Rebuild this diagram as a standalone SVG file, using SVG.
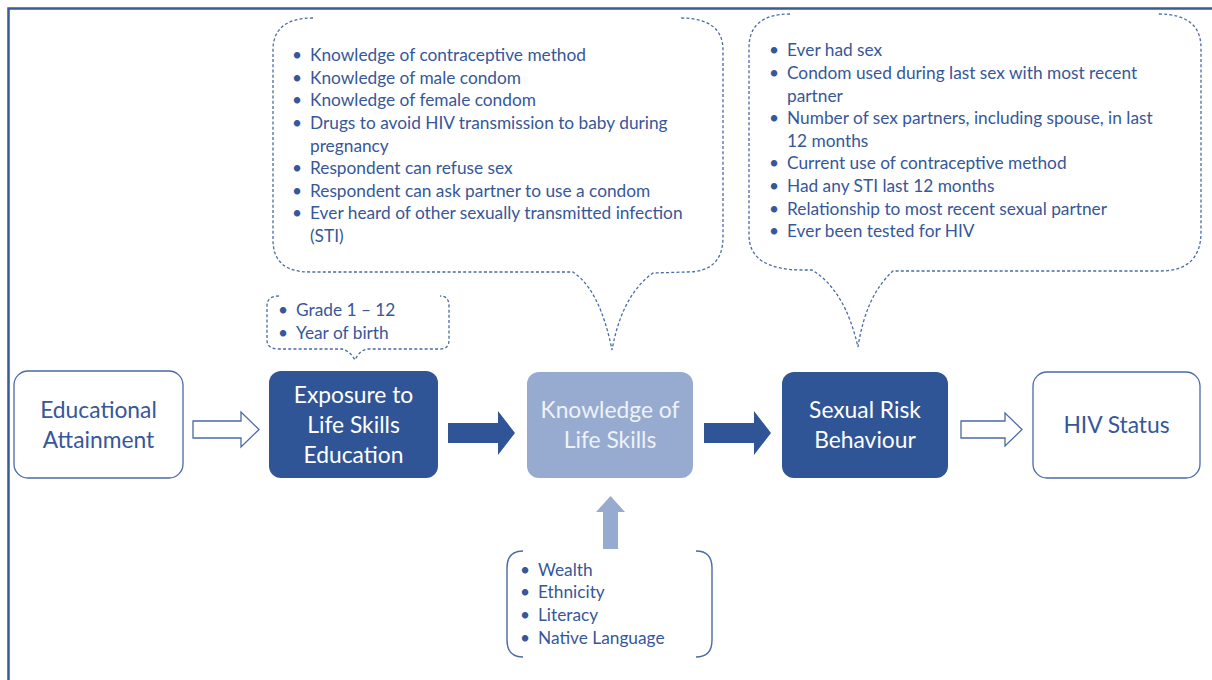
<svg xmlns="http://www.w3.org/2000/svg" width="1212" height="680" viewBox="0 0 1212 680">
<style>
.txt{font-family:Lato,"Liberation Sans",sans-serif;font-size:17.3px;fill:#36579a}
.node{font-family:Lato,"Liberation Sans",sans-serif;font-size:22.8px;text-anchor:middle}
.dash{fill:none;stroke:#4a6aa8;stroke-width:1.3;stroke-dasharray:3 2.2}
.outline{fill:#fff;stroke:#4a6aa8;stroke-width:1.3}
.dark{fill:#2f5597}
.hollow{fill:#fff;stroke:#4a6aa8;stroke-width:1.3}
</style>
<rect width="1212" height="680" fill="#fff"/>
<path d="M8.5,680 L8.5,8.5 L1212,8.5" fill="none" stroke="#3a5a9a" stroke-width="2.5"/>

<g id="callout-knowledge">
<path class="dash" d="M313,18 Q273,18 273,50 L273,240 Q273,272 310,272 L573,272 Q600,290 612,350 Q622,295 653,273 L687,272 Q723,272 723,237 L723,50 Q723,18 680,18"/>
<g class="txt">
<text x="292" y="61">•</text><text x="310" y="61">Knowledge of contraceptive method</text>
<text x="292" y="84">•</text><text x="310" y="84">Knowledge of male condom</text>
<text x="292" y="106">•</text><text x="310" y="106">Knowledge of female condom</text>
<text x="292" y="129">•</text><text x="310" y="129">Drugs to avoid HIV transmission to baby during</text>
<text x="310" y="152">pregnancy</text>
<text x="292" y="174">•</text><text x="310" y="174">Respondent can refuse sex</text>
<text x="292" y="197">•</text><text x="310" y="197">Respondent can ask partner to use a condom</text>
<text x="292" y="219">•</text><text x="310" y="219">Ever heard of other sexually transmitted infection</text>
<text x="310" y="242">(STI)</text>
</g>
</g>

<g id="callout-behaviour">
<path class="dash" d="M790,14 Q749,14 749,48 L749,235 Q749,270 803,270 L812,270 Q845,290 858,347 Q866,295 893,271 L1160,271 Q1201,271 1201,232 L1201,48 Q1201,14 1158,14"/>
<g class="txt">
<text x="769" y="56">•</text><text x="787" y="56">Ever had sex</text>
<text x="769" y="79">•</text><text x="787" y="79">Condom used during last sex with most recent</text>
<text x="787" y="102">partner</text>
<text x="769" y="124">•</text><text x="787" y="124">Number of sex partners, including spouse, in last</text>
<text x="787" y="147">12 months</text>
<text x="769" y="169">•</text><text x="787" y="169">Current use of contraceptive method</text>
<text x="769" y="192">•</text><text x="787" y="192">Had any STI last 12 months</text>
<text x="769" y="215">•</text><text x="787" y="215">Relationship to most recent sexual partner</text>
<text x="769" y="237">•</text><text x="787" y="237">Ever been tested for HIV</text>
</g>
</g>

<g id="callout-exposure">
<path class="dash" d="M279,296 Q267,296 267,306 L267,340 Q267,349 279,349 L342,349 Q350,351 355,360 Q359,351 367,349 L440,349 Q449,349 449,340 L449,306 Q449,296 440,296"/>
<g class="txt">
<text x="278" y="316">•</text><text x="296" y="316">Grade 1 – 12</text>
<text x="278" y="339">•</text><text x="296" y="339">Year of birth</text>
</g>
</g>

<g id="covariates">
<path d="M523,551 Q507,551 507,568 L507,640 Q507,657 523,657" fill="none" stroke="#4a6aa8" stroke-width="1.4"/>
<path d="M696,551 Q712,551 712,568 L712,640 Q712,657 696,657" fill="none" stroke="#4a6aa8" stroke-width="1.4"/>
<g class="txt">
<text x="520" y="576">•</text><text x="538" y="576">Wealth</text>
<text x="520" y="598">•</text><text x="538" y="598">Ethnicity</text>
<text x="520" y="621">•</text><text x="538" y="621">Literacy</text>
<text x="520" y="644">•</text><text x="538" y="644">Native Language</text>
</g>
</g>

<g id="educational-attainment">
<rect class="outline" x="14" y="371" width="169" height="107" rx="14"/>
<text class="node" fill="#36579a" x="98.5" y="418">Educational</text>
<text class="node" fill="#36579a" x="98.5" y="448">Attainment</text>
</g>
<g id="exposure">
<rect class="dark" x="269" y="371" width="169" height="107" rx="12"/>
<text class="node" fill="#fff" x="353.5" y="403">Exposure to</text>
<text class="node" fill="#fff" x="353.5" y="433">Life Skills</text>
<text class="node" fill="#fff" x="353.5" y="463">Education</text>
</g>
<g id="knowledge">
<rect x="527" y="372" width="166" height="106" rx="12" fill="#97abd0"/>
<text class="node" fill="#eef2f9" x="610" y="418">Knowledge of</text>
<text class="node" fill="#eef2f9" x="610" y="448">Life Skills</text>
</g>
<g id="sexual-risk">
<rect class="dark" x="782" y="372" width="166" height="106" rx="12"/>
<text class="node" fill="#fff" x="865" y="418">Sexual Risk</text>
<text class="node" fill="#fff" x="865" y="448">Behaviour</text>
</g>
<g id="hiv-status">
<rect class="outline" x="1033" y="372" width="167" height="106" rx="14"/>
<text class="node" fill="#36579a" x="1116.5" y="433">HIV Status</text>
</g>

<g id="connectors">
<path class="hollow" d="M193,421 L241,421 L241,412 L259,429.5 L241,447 L241,438 L193,438 Z"/>
<path class="dark" d="M448,423 L498,423 L498,411 L515,433 L498,455 L498,443 L448,443 Z"/>
<path class="dark" d="M704,423 L754,423 L754,411 L771,433 L754,455 L754,443 L704,443 Z"/>
<path class="hollow" d="M961,421 L1005,421 L1005,413 L1022,429.5 L1005,446 L1005,438 L961,438 Z"/>
<path d="M603,549 L603,512 L596,512 L610.5,496 L625,512 L618,512 L618,549 Z" fill="#97abd0"/>
</g>
</svg>
